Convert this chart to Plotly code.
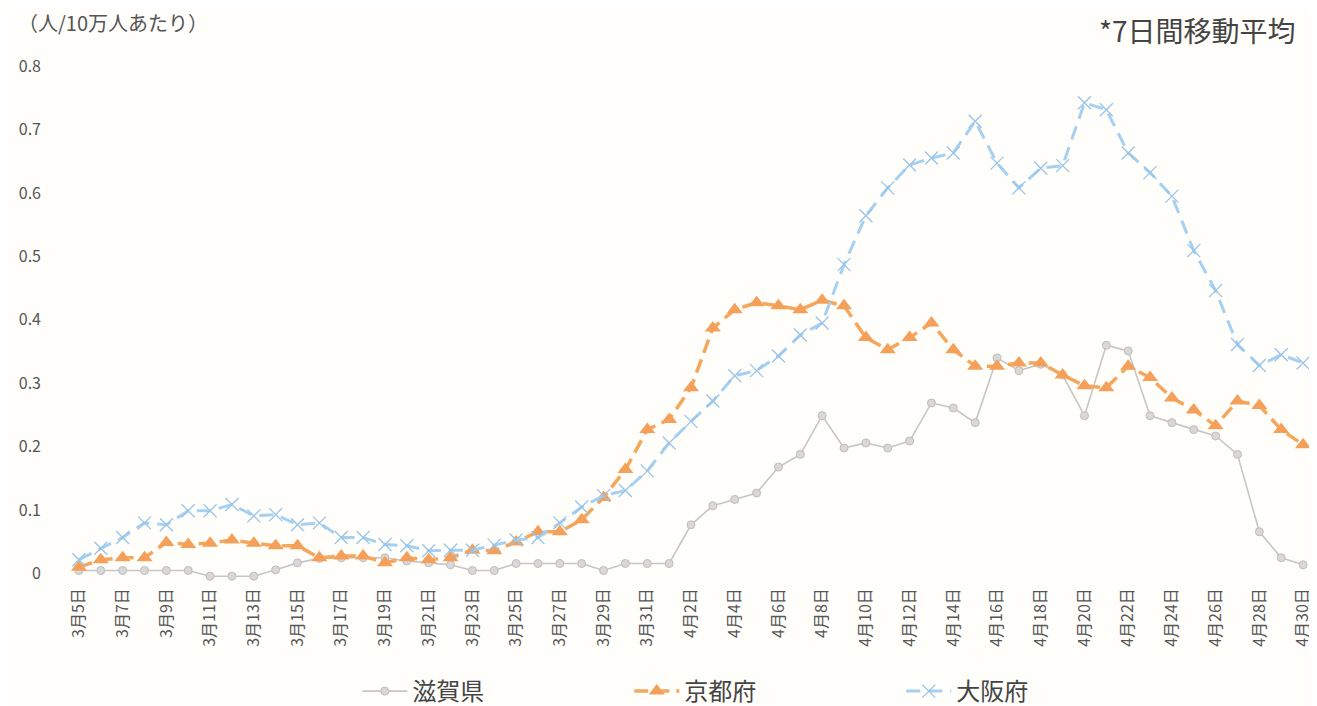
import plotly.graph_objects as go

# ---------------------------------------------------------------------------
# Data (7-day moving average, persons per 100k)
# ---------------------------------------------------------------------------

dates = [f"3月{d}日" for d in range(5, 32)] + [f"4月{d}日" for d in range(1, 31)]

shiga = [0.005, 0.005, 0.005, 0.005, 0.005, 0.005, -0.004, -0.004, -0.004, 0.006,
         0.017, 0.024, 0.025, 0.025, 0.025, 0.02, 0.017, 0.014, 0.005, 0.005,
         0.016, 0.016, 0.016, 0.016, 0.005, 0.016, 0.016, 0.016, 0.077, 0.107,
         0.117, 0.127, 0.168, 0.188, 0.249, 0.198, 0.206, 0.198, 0.209, 0.269,
         0.261, 0.238, 0.34, 0.32, 0.33, 0.313, 0.249, 0.36, 0.351, 0.249,
         0.238, 0.227, 0.217, 0.188, 0.066, 0.025, 0.014]

kyoto = [0.01, 0.022, 0.025, 0.025, 0.049, 0.046, 0.048, 0.053, 0.048, 0.044,
         0.044, 0.025, 0.028, 0.028, 0.017, 0.025, 0.022, 0.025, 0.037, 0.036,
         0.05, 0.066, 0.066, 0.085, 0.12, 0.164, 0.227, 0.243, 0.293, 0.387,
         0.416, 0.427, 0.422, 0.416, 0.431, 0.422, 0.372, 0.353, 0.372, 0.395,
         0.353, 0.327, 0.327, 0.332, 0.332, 0.313, 0.296, 0.293, 0.327, 0.309,
         0.277, 0.258, 0.233, 0.272, 0.265, 0.227, 0.203]

osaka = [0.022, 0.04, 0.057, 0.08, 0.077, 0.099, 0.099, 0.109, 0.091, 0.093,
         0.077, 0.08, 0.057, 0.057, 0.046, 0.044, 0.036, 0.037, 0.037, 0.045,
         0.053, 0.057, 0.08, 0.105, 0.123, 0.131, 0.162, 0.206, 0.24, 0.272,
         0.312, 0.32, 0.343, 0.376, 0.395, 0.487, 0.564, 0.608, 0.644, 0.655,
         0.663, 0.713, 0.647, 0.608, 0.639, 0.643, 0.742, 0.731, 0.663, 0.632,
         0.595, 0.509, 0.446, 0.361, 0.328, 0.345, 0.332]

y_ticks = [0, 0.1, 0.2, 0.3, 0.4, 0.5, 0.6, 0.7, 0.8]
y_tick_labels = ["0", "0.1", "0.2", "0.3", "0.4", "0.5", "0.6", "0.7", "0.8"]

FONT = "Noto Sans CJK JP"

fig = go.Figure()

fig.add_trace(go.Scatter(
    x=dates, y=shiga, name="滋賀県", mode="lines+markers", cliponaxis=False,
    line=dict(color="#c6c6c6", width=1.6),
    marker=dict(symbol="circle", size=8, color="#d8d8d8",
                line=dict(color="#bdbdbd", width=1)),
))
fig.add_trace(go.Scatter(
    x=dates, y=kyoto, name="京都府", mode="lines+markers", cliponaxis=False,
    line=dict(color="#f5a75c", width=3.5, dash="14px,7px"),
    marker=dict(symbol="triangle-up", size=14, color="#f5a05a"),
))
fig.add_trace(go.Scatter(
    x=dates, y=osaka, name="大阪府", mode="lines+markers", cliponaxis=False,
    line=dict(color="#a6d0f2", width=3, dash="14px,8px"),
    marker=dict(symbol="x-thin", size=13, color="#a6d0f2",
                line=dict(color="#98c4ea", width=1.3)),
))

fig.update_layout(
    width=1317, height=706,
    paper_bgcolor="#fffefb", plot_bgcolor="#fffefb",
    margin=dict(l=55, r=11, t=58, b=134),
    font=dict(family=FONT, color="#555555"),
    legend=dict(
        orientation="h", xref="container", x=0.575, xanchor="center",
        yref="container", y=0.0, yanchor="bottom",
        font=dict(size=24, color="#444444", family=FONT),
        entrywidth=212, entrywidthmode="pixels",
        itemwidth=45, bgcolor="rgba(0,0,0,0)",
    ),
    annotations=[
        dict(text="（人/10万人あたり）", xref="paper", yref="paper",
             x=-0.042, y=1.084, xanchor="left", yanchor="middle", showarrow=False,
             font=dict(size=20, color="#555555", family=FONT)),
        dict(text="*7日間移動平均", xref="paper", yref="paper",
             x=0.987, y=1.07, xanchor="right", yanchor="middle", showarrow=False,
             font=dict(size=28, color="#444444", family=FONT)),
    ],
)

fig.update_xaxes(
    type="category", range=[-0.5, len(dates) - 0.5],
    tickvals=dates[::2], ticktext=dates[::2], tickangle=-90,
    tickfont=dict(size=16, color="#555555", family=FONT),
    showgrid=False, zeroline=False, showline=False, ticks="",
    ticklabelstandoff=4,
)
fig.update_yaxes(
    range=[-0.01, 0.8], tickvals=y_ticks, ticktext=y_tick_labels,
    tickfont=dict(size=16, color="#555555", family=FONT),
    showgrid=False, zeroline=False, showline=False, ticks="",
    ticklabelstandoff=26,
)

fig.write_html("out.html")
